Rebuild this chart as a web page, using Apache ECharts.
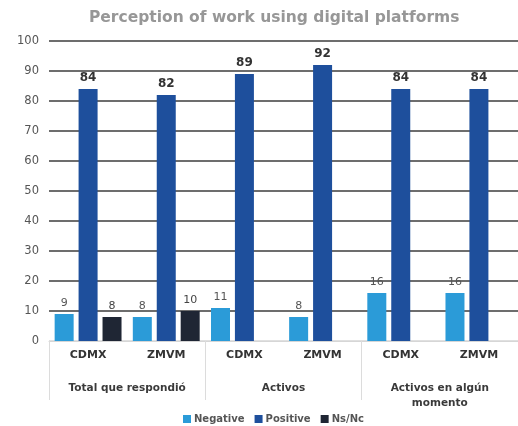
<!DOCTYPE html>
<html>
<head>
<meta charset="utf-8">
<script src="https://cdn.jsdelivr.net/npm/echarts@6/dist/echarts.min.js"></script>
<style>
  html, body { margin: 0; padding: 0; background: #fff; }
  #chart { width: 518px; height: 426px; }
</style>
</head>
<body>
<div id="chart"></div>
<script>
// Sub-categories (inner axis) and the groups they belong to (outer axis)
const places = ['CDMX', 'ZMVM', 'CDMX', 'ZMVM', 'CDMX', 'ZMVM'];
const groups = ['Total que respondió', 'Activos', 'Activos en algún\nmomento'];

// Percentages per series
const negative = [9, 8, 11, 8, 16, 16];
const positive = [84, 82, 89, 92, 84, 84];
const nsnc = [8, 10, null, null, null, null];

const yTicks = [0, 10, 20, 30, 40, 50, 60, 70, 80, 90, 100];

const FONT = '"DejaVu Sans", sans-serif';

// The baseline is light; every other grid line is dark
const gridColors = yTicks.map((t, i) => (i === 0 ? '#d6d6d6' : '#3d3d3d'));

const chart = echarts.init(document.getElementById('chart'));

function barSeries(name, data, color, labelStyle) {
  return {
    name: name,
    type: 'bar',
    data: data,
    barWidth: 19,
    barGap: '26%',
    itemStyle: { color: color },
    label: Object.assign({
      show: true,
      position: 'top',
      distance: 5,
      fontFamily: FONT
    }, labelStyle)
  };
}

chart.setOption({
  animation: false,
  textStyle: { fontFamily: FONT },
  title: {
    text: 'Perception of work using digital platforms',
    left: 84,
    top: 5,
    textStyle: { fontFamily: FONT, fontSize: 15.5, fontWeight: 'bold', color: '#979797' }
  },
  legend: {
    bottom: -3,
    left: 178,
    itemWidth: 8,
    itemHeight: 8,
    itemGap: 10,
    icon: 'rect',
    textStyle: { fontFamily: FONT, fontSize: 10, fontWeight: 'bold', color: '#555', padding: [0, 0, 0, -2] },
    data: ['Negative', 'Positive', 'Ns/Nc']
  },
  grid: { left: 49, right: 0, top: 41, bottom: 85, containLabel: false },
  xAxis: [
    {
      type: 'category',
      data: places,
      axisLine: { show: true, lineStyle: { color: '#d6d6d6', width: 1 } },
      axisTick: { show: false },
      axisLabel: { margin: 9, fontFamily: FONT, fontSize: 11, fontWeight: 'bold', color: '#333', interval: 0 }
    },
    {
      type: 'category',
      data: groups,
      position: 'bottom',
      gridIndex: 0,
      axisLine: { show: false },
      axisTick: { show: true, length: 59, lineStyle: { color: '#dcdcdc', width: 1 } },
      axisLabel: { margin: 40, fontFamily: FONT, fontSize: 10.5, fontWeight: 'bold', color: '#3a3a3a', lineHeight: 15, interval: 0 }
    }
  ],
  yAxis: {
    type: 'value',
    min: 0,
    max: 100,
    interval: 10,
    axisLine: { show: false },
    axisTick: { show: false },
    axisLabel: { margin: 10, fontFamily: FONT, fontSize: 11.5, color: '#555' },
    splitLine: { show: true, lineStyle: { color: gridColors, width: 1.5 } }
  },
  series: [
    barSeries('Negative', negative, '#2b9bd8', { fontSize: 11, color: '#555' }),
    barSeries('Positive', positive, '#1e4f9c', { fontSize: 12, fontWeight: 'bold', color: '#333' }),
    barSeries('Ns/Nc', nsnc, '#1f2634', { fontSize: 11, color: '#444' })
  ]
});
</script>
</body>
</html>
